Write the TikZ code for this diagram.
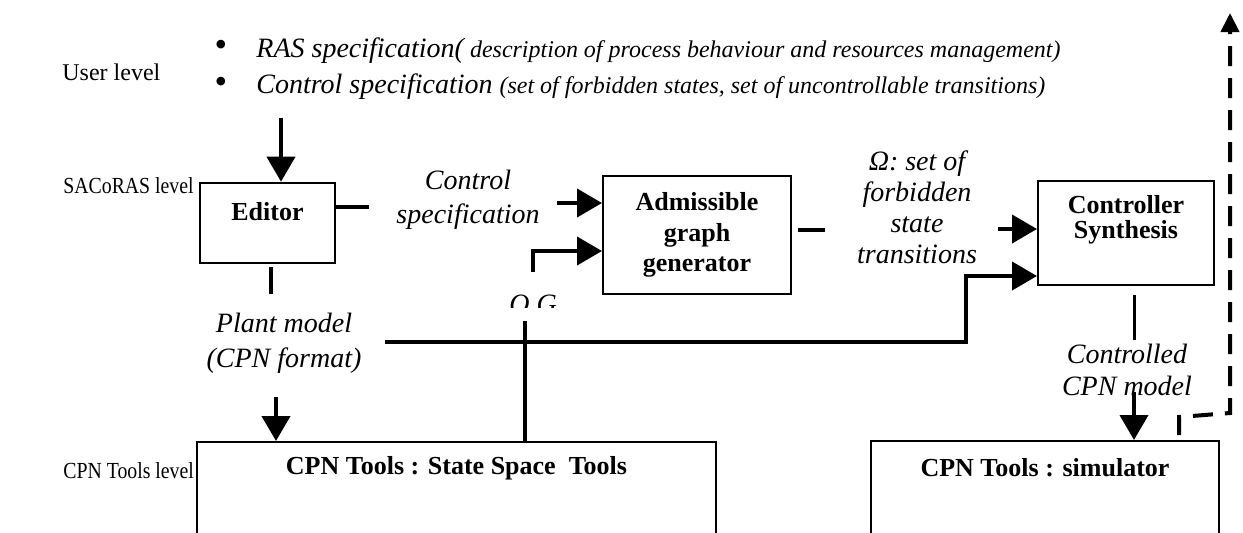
\documentclass[tikz,border=0pt]{standalone}
\usepackage{fontspec}
\setmainfont{Liberation Serif}
\usetikzlibrary{arrows.meta}
\begin{document}
\begin{tikzpicture}[x=0.5pt,y=-0.5pt,
  box/.style={draw,line width=1pt,inner sep=0pt},
  lvl/.style={inner sep=0pt,anchor=base west,font=\fontsize{11.5}{13}\selectfont},
  dotmark/.style={inner sep=0pt,font=\fontsize{18}{20}\selectfont},
  lab/.style={inner sep=0pt,align=center,font=\fontsize{14}{17}\selectfont\itshape},
  bname/.style={inner sep=0pt,align=center,font=\fontsize{13}{15.25}\selectfont\bfseries},
  flow/.style={line width=2pt,-{Triangle[width=14pt,length=12.5pt]}},
  wire/.style={line width=2pt},
]
\useasboundingbox (0,0) rectangle (1243,532);
\clip (0,0) rectangle (1243,532);

% level names (the two lower ones set slightly condensed)
\node[lvl,font=\fontsize{12}{14}\selectfont] (uLvl) at (62,80) {User level};
\node[lvl] (sLvl) at (63,193) {\scalebox{0.86}[1]{SACoRAS level}};
\node[lvl] (cLvl) at (63,478) {\scalebox{0.86}[1]{CPN Tools level}};

% user specification list
\node[dotmark] (bul1) at (221,48) {•};
\node[dotmark] (bul2) at (221,85) {•};
\node[inner sep=0pt,anchor=base west,font=\itshape] (spec1) at (256,57)
  {\fontsize{14}{17}\selectfont RAS specification(\fontsize{12}{14}\selectfont{} description of process behaviour and resources management)};
\node[inner sep=0pt,anchor=base west,font=\itshape] (spec2) at (256,93)
  {\fontsize{14}{17}\selectfont Control specification \fontsize{12}{14}\selectfont(set of forbidden states, set of uncontrollable transitions)};

% SACoRAS blocks
\node[box,line width=1.3pt,minimum width=67.5pt,minimum height=40pt] (editor) at (267.5,223) {};
\node[bname] (editorT) at (267.5,212) {Editor};
\node[box,bname,minimum width=94pt,minimum height=59pt] (adm) at (697,235) {Admissible\\graph\\generator};
\node[box,minimum width=88pt,minimum height=52pt] (ctrl) at (1126,233) {};
\node[bname,font=\fontsize{13}{12.5}\selectfont\bfseries] (ctrlT) at (1126,220) {Controller\\Synthesis};

% CPN Tools blocks
\node[box,minimum width=259.5pt,minimum height=59pt] (ss) at (456.5,501) {};
\node[bname] (ssT) at (456.5,468) {CPN Tools : State Space\ \ Tools};
\node[box,minimum width=174pt,minimum height=59.5pt] (sim) at (1045,500.5) {};
\node[bname] (simT) at (1045,468) {CPN Tools : simulator};

% flow labels
\node[lab] (csLab) at (468,200) {Control\\specification};
\node[lab,font=\fontsize{14}{15.5}\selectfont\itshape] (omLab) at (917,207) {Ω: set of\\forbidden\\state\\transitions};
\node[lab,font=\fontsize{14}{17.5}\selectfont\itshape] (pmLab) at (284,343) {Plant model\\(CPN format)};
\node[lab,font=\fontsize{14}{16}\selectfont\itshape] (cmLab) at (1127,370) {Controlled\\CPN model};
\begin{scope}
  \clip (495,285) rectangle (575,307);
  \node[lab,anchor=base] (og) at (533,313) {O.G};
\end{scope}

% connector end points
\coordinate (userIn) at (281,118);
\coordinate (edR1) at (335,207);
\coordinate (edR2) at (369,207);
\coordinate (edB1) at (271,267);
\coordinate (edB2) at (271,294);
\coordinate (csIn) at (557,203);
\coordinate (ogUp) at (533,272);
\coordinate (ogTurn) at (533,251);
\coordinate (ogDown) at (525,321);
\coordinate (admR1) at (798,230);
\coordinate (admR2) at (825,230);
\coordinate (omIn) at (998,229);
\coordinate (pmOut) at (385,342);
\coordinate (pmTurn) at (966,342);
\coordinate (pmUp) at (966,276);
\coordinate (pmDown) at (276,397);
\coordinate (ctB1) at (1134,295);
\coordinate (ctB2) at (1134,340);
\coordinate (cmDown) at (1134,392);
\coordinate (fbA) at (1179,435);
\coordinate (fbB) at (1179,417);
\coordinate (fbC) at (1230,413);
\coordinate (fbTop) at (1230,13);

% connectors
\draw[flow] (userIn) -- (userIn |- editor.north);
\draw[wire] (edR1) -- (edR2);
\draw[wire] (edB1) -- (edB2);
\draw[flow] (csIn) -- (csIn -| adm.west);
\draw[flow] (ogUp) -- (ogTurn) -- (ogTurn -| adm.west);
\draw[wire] (ogDown) -- (ogDown |- ss.north);
\draw[wire] (admR1) -- (admR2);
\draw[flow] (omIn) -- (omIn -| ctrl.west);
\draw[flow] (pmOut) -- (pmTurn) -- (pmUp) -- (pmUp -| ctrl.west);
\draw[flow] (pmDown) -- (pmDown |- ss.north);
\draw[line width=1.5pt] (ctB1) -- (ctB2);
\draw[flow] (cmDown) -- (cmDown |- sim.north);
\draw[line width=2pt,dash pattern=on 10pt off 6pt,-{Triangle[width=9pt,length=9.5pt]}]
  (fbA) -- (fbB) -- (fbC) -- (fbTop);
\end{tikzpicture}
\end{document}
